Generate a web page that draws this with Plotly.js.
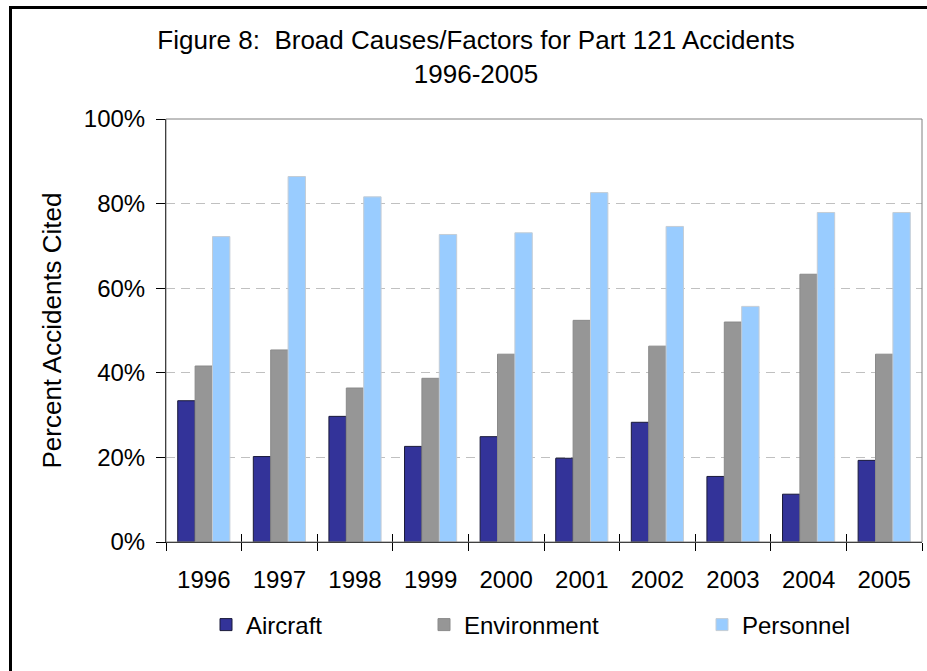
<!DOCTYPE html>
<html>
<head>
<meta charset="utf-8">
<script src="https://cdn.plot.ly/plotly-3.0.1.min.js"></script>
<style>
  html, body { margin: 0; padding: 0; background: #fff; }
  #wrap { position: relative; width: 927px; height: 671px; overflow: hidden; }
  #chart { width: 927px; height: 671px; }
  #frame { position: absolute; left: 9px; top: 6px; width: 940px; height: 700px;
           border-left: 3px solid #000; border-top: 3px solid #000; pointer-events: none; }
</style>
</head>
<body>
<div id="wrap">
  <div id="chart"></div>
  <div id="frame"></div>
</div>
<script>
const years = ['1996','1997','1998','1999','2000','2001','2002','2003','2004','2005'];
const aircraft    = [33.4, 20.2, 29.7, 22.6, 24.9, 19.8, 28.3, 15.5, 11.3, 19.3];
const environment = [41.6, 45.4, 36.4, 38.7, 44.4, 52.4, 46.3, 52.0, 63.3, 44.4];
const personnel   = [72.2, 86.4, 81.6, 72.7, 73.1, 82.6, 74.6, 55.7, 77.9, 77.9];
const yTicks = [0, 20, 40, 60, 80, 100];
const yTickText = yTicks.map(v => v + '%');

const FONT = 'Liberation Sans, Arial, sans-serif';

const traces = [
  { type: 'bar', name: 'Aircraft', x: years, y: aircraft, legend: 'legend',
    marker: { color: '#333399', line: { color: '#1a1a3a', width: 1 } }, hoverinfo: 'skip' },
  { type: 'bar', name: 'Environment', x: years, y: environment, legend: 'legend2',
    marker: { color: '#969696', line: { color: '#8a8a8a', width: 1 } }, hoverinfo: 'skip' },
  { type: 'bar', name: 'Personnel', x: years, y: personnel, legend: 'legend3',
    marker: { color: '#99ccff', line: { color: '#c4cdd6', width: 1 } }, hoverinfo: 'skip' },
  { type: 'scatter', mode: 'markers', x: years, y: years.map(() => 0), xaxis: 'x2',
    marker: { opacity: 0 }, showlegend: false, hoverinfo: 'skip' }
];

const legendBase = {
  orientation: 'h', xref: 'container', yref: 'container', yanchor: 'middle',
  y: 1 - 625 / 671, font: { family: FONT, size: 24, color: '#000' },
  bgcolor: 'rgba(0,0,0,0)', itemwidth: 30
};

const layout = {
  width: 927, height: 671,
  margin: { l: 166, r: 5, t: 119, b: 129 },
  paper_bgcolor: '#ffffff', plot_bgcolor: '#ffffff',
  font: { family: FONT, size: 24, color: '#000' },
  title: {
    text: 'Figure 8:\u00a0\u00a0Broad Causes/Factors for Part 121 Accidents<br>1996-2005',
    font: { family: FONT, size: 26, color: '#000' },
    x: 476 / 927, xanchor: 'center', xref: 'container',
    y: 1 - 49 / 671, yanchor: 'top', yref: 'container'
  },
  barmode: 'group', bargap: 0.31, bargroupgap: 0,
  xaxis: {
    type: 'category', categoryorder: 'array', categoryarray: years, range: [-0.5, 9.5],
    showline: true, linecolor: '#000', linewidth: 1,
    ticks: 'outside', ticklen: 8, tickcolor: '#000', tickwidth: 1, tickson: 'boundaries',
    showgrid: false, zeroline: false, fixedrange: true,
    tickfont: { family: FONT, size: 24, color: '#000' }, ticklabelstandoff: 16
  },
  xaxis2: {
    type: 'category', categoryorder: 'array', categoryarray: years, range: [-0.5, 9.5],
    overlaying: 'x', side: 'bottom', showline: false, showticklabels: false,
    ticks: 'inside', ticklen: 8, tickcolor: '#000', tickwidth: 1, tickson: 'boundaries',
    showgrid: false, zeroline: false, fixedrange: true
  },
  yaxis: {
    range: [0, 100], tickmode: 'array', tickvals: yTicks, ticktext: yTickText,
    showline: true, linecolor: '#000', linewidth: 1,
    ticks: 'outside', ticklen: 9, tickcolor: '#000', tickwidth: 1,
    showgrid: true, gridcolor: '#c0c0c0', gridwidth: 1, griddash: '9px,6px',
    zeroline: false, fixedrange: true,
    tickfont: { family: FONT, size: 24, color: '#000' }, ticklabelstandoff: 6,
    title: { text: 'Percent Accidents Cited', font: { family: FONT, size: 26, color: '#000' }, standoff: 14 }
  },
  shapes: [
    { type: 'rect', xref: 'paper', yref: 'paper', x0: 0, x1: 1, y0: 0, y1: 1,
      line: { color: '#808080', width: 1 }, layer: 'above' }
  ],
  legend:  Object.assign({}, legendBase, { x: 206 / 927 }),
  legend2: Object.assign({}, legendBase, { x: 424 / 927 }),
  legend3: Object.assign({}, legendBase, { x: 702 / 927 }),
  showlegend: true
};

Plotly.newPlot('chart', traces, layout, { displayModeBar: false, staticPlot: true });
</script>
</body>
</html>
